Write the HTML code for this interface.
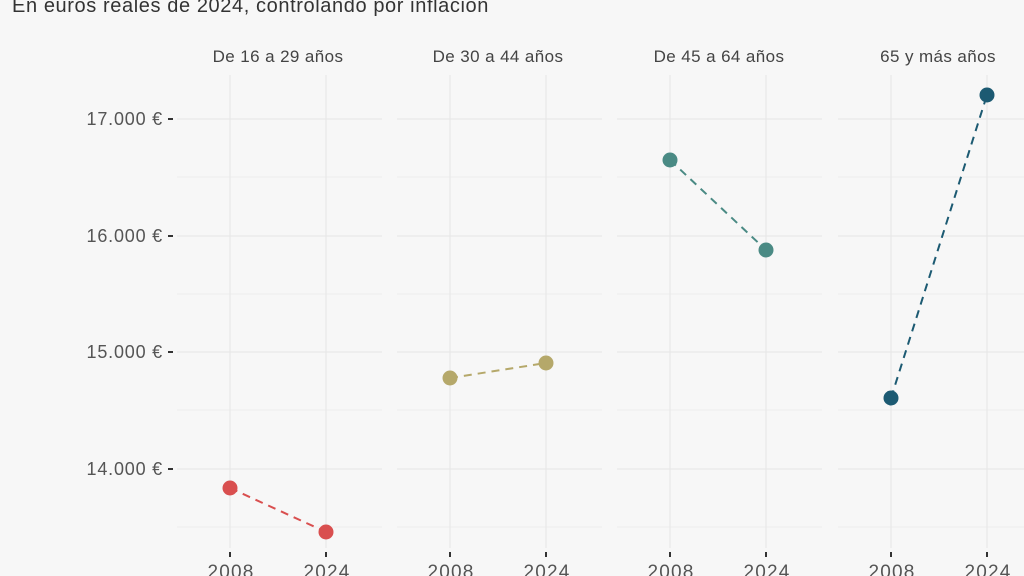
<!DOCTYPE html>
<html><head><meta charset="utf-8"><style>
body{margin:0;background:#f7f7f7;}
svg{display:block;font-family:"Liberation Sans",sans-serif;}
</style></head><body>
<svg width="1024" height="576" viewBox="0 0 1024 576">
<rect width="1024" height="576" fill="#f7f7f7"/>
<text x="12" y="12" font-size="20" letter-spacing="0.6" fill="#333">En euros reales de 2024, controlando por inflación</text>
<g stroke="#e6e6e6" stroke-width="1">
<g id="gp">
<line x1="177" y1="119" x2="382" y2="119"/><line x1="177" y1="236" x2="382" y2="236"/>
<line x1="177" y1="352" x2="382" y2="352"/><line x1="177" y1="469" x2="382" y2="469"/>
<line x1="177" y1="177" x2="382" y2="177" stroke="#eeeeee"/><line x1="177" y1="294" x2="382" y2="294" stroke="#eeeeee"/>
<line x1="177" y1="410" x2="382" y2="410" stroke="#eeeeee"/><line x1="177" y1="527" x2="382" y2="527" stroke="#eeeeee"/>
<line x1="230" y1="75" x2="230" y2="548"/><line x1="326" y1="75" x2="326" y2="548"/>
</g>
<use href="#gp" x="220"/><use href="#gp" x="440"/><use href="#gp" x="661"/>
</g>
<g font-size="17" letter-spacing="0.4" fill="#444" text-anchor="middle">
<text x="278" y="62">De 16 a 29 años</text>
<text x="498" y="62">De 30 a 44 años</text>
<text x="719" y="62">De 45 a 64 años</text>
<text x="938" y="62">65 y más años</text>
</g>
<g font-size="18" letter-spacing="0.8" fill="#555" text-anchor="end">
<text x="163" y="125">17.000 €</text><text x="163" y="242">16.000 €</text>
<text x="163" y="358">15.000 €</text><text x="163" y="475">14.000 €</text>
</g>
<g stroke="#333" stroke-width="2">
<line x1="168" y1="119" x2="173" y2="119"/><line x1="168" y1="236" x2="173" y2="236"/>
<line x1="168" y1="352" x2="173" y2="352"/><line x1="168" y1="469" x2="173" y2="469"/>
<line x1="230" y1="552" x2="230" y2="557"/><line x1="326" y1="552" x2="326" y2="557"/>
<line x1="450" y1="552" x2="450" y2="557"/><line x1="546" y1="552" x2="546" y2="557"/>
<line x1="670" y1="552" x2="670" y2="557"/><line x1="766" y1="552" x2="766" y2="557"/>
<line x1="891" y1="552" x2="891" y2="557"/><line x1="987" y1="552" x2="987" y2="557"/>
</g>
<g font-size="19" letter-spacing="1.2" fill="#555" text-anchor="middle">
<text x="231" y="578">2008</text><text x="327" y="578">2024</text>
<text x="451" y="578">2008</text><text x="547" y="578">2024</text>
<text x="671" y="578">2008</text><text x="767" y="578">2024</text>
<text x="892" y="578">2008</text><text x="988" y="578">2024</text>
</g>
<g stroke-width="2" stroke-dasharray="8,6">
<line x1="230" y1="488" x2="326" y2="532" stroke="#d94f4f"/>
<line x1="450" y1="378" x2="546" y2="363" stroke="#b5a86a"/>
<line x1="670" y1="160" x2="766" y2="250" stroke="#4a8a84"/>
<line x1="891" y1="398" x2="987" y2="95" stroke="#1c5a72"/>
</g>
<circle cx="230" cy="488" r="7.5" fill="#d94f4f"/><circle cx="326" cy="532" r="7.5" fill="#d94f4f"/>
<circle cx="450" cy="378" r="7.5" fill="#b5a86a"/><circle cx="546" cy="363" r="7.5" fill="#b5a86a"/>
<circle cx="670" cy="160" r="7.5" fill="#4a8a84"/><circle cx="766" cy="250" r="7.5" fill="#4a8a84"/>
<circle cx="891" cy="398" r="7.5" fill="#1c5a72"/><circle cx="987" cy="95" r="7.5" fill="#1c5a72"/>
</svg>
</body></html>
